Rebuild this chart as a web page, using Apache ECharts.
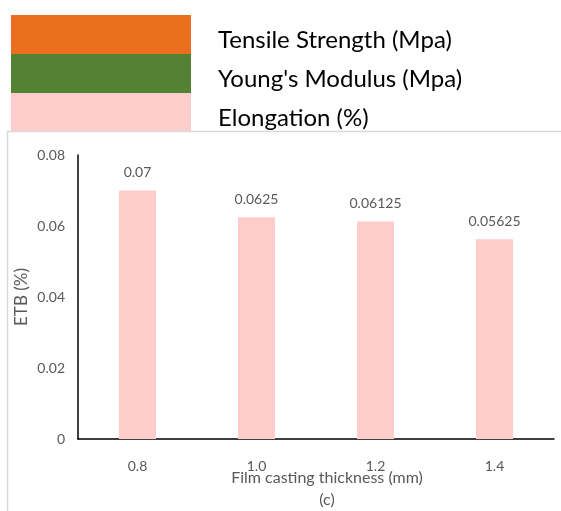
<!DOCTYPE html>
<html>
<head>
<meta charset="utf-8">
<script src="https://cdn.jsdelivr.net/npm/echarts@6/dist/echarts.min.js"></script>
<style>
  html, body { margin: 0; padding: 0; background: #ffffff; }
  #chart { width: 561px; height: 511px; }
</style>
</head>
<body>
<div id="chart"></div>
<script>
// Film casting thickness categories (mm)
const thickness = ['0.8', '1.0', '1.2', '1.4'];
// Elongation at break values (%)
const elongation = [0.07, 0.0625, 0.06125, 0.05625];
// Series names shown in the legend
const seriesNames = ['Tensile Strength (Mpa)', "Young's Modulus (Mpa)", 'Elongation (%)'];
const seriesColors = ['#eb6f1e', '#548235', '#ffcccc'];
// Y axis tick range
const yMin = 0, yMax = 0.08, yStep = 0.02;

const chart = echarts.init(document.getElementById('chart'), null, { renderer: 'canvas' });

const labelFont = 'Lato, "Open Sans", sans-serif';

const option = {
  backgroundColor: '#ffffff',
  animation: false,
  graphic: [{
    type: 'rect',
    z: 5,
    shape: { x: 7.5, y: 131.5, width: 600, height: 500 },
    style: { fill: 'none', stroke: '#d9d9d9', lineWidth: 1.5 },
    silent: true
  }],
  legend: {
    orient: 'vertical',
    left: 11,
    top: 15,
    itemWidth: 180,
    itemHeight: 39,
    itemGap: 0,
    padding: 0,
    icon: 'rect',
    selectedMode: false,
    data: seriesNames,
    formatter: name => '{t|' + name + '}',
    textStyle: {
      rich: {
        t: {
          fontFamily: 'Lato, "Noto Sans", sans-serif',
          fontSize: 24,
          color: '#000000',
          padding: [12, 0, 0, 22],
          lineHeight: 27
        }
      }
    }
  },
  grid: { left: 78, right: 7, top: 155, bottom: 72, outerBoundsMode: 'none', containLabel: false },
  xAxis: {
    type: 'category',
    data: thickness,
    axisLine: { lineStyle: { color: '#000000', width: 1.5 } },
    axisTick: { show: false },
    axisLabel: { color: '#595959', fontSize: 14, fontFamily: labelFont, margin: 20 },
    name: 'Film casting thickness (mm)\n(c)',
    nameLocation: 'middle',
    nameMoveOverlap: false,
    nameGap: 28,
    nameTextStyle: {
      color: '#595959', fontSize: 16, fontFamily: labelFont,
      lineHeight: 22, verticalAlign: 'top', padding: [0, 0, 0, 22]
    }
  },
  yAxis: {
    type: 'value',
    min: yMin,
    max: yMax,
    interval: yStep,
    axisLine: { show: true, lineStyle: { color: '#000000', width: 1.5 } },
    axisTick: { show: false },
    splitLine: { show: false },
    axisLabel: { color: '#595959', fontSize: 14, fontFamily: labelFont, margin: 13 },
    name: 'ETB (%)',
    nameLocation: 'middle',
    nameMoveOverlap: false,
    nameGap: 48,
    nameTextStyle: { color: '#595959', fontSize: 17, fontFamily: labelFont }
  },
  series: seriesNames.map((name, i) => ({
    name: name,
    type: 'bar',
    barWidth: 37,
    barGap: '-100%',
    itemStyle: { color: seriesColors[i] },
    data: i === 2 ? elongation : thickness.map(() => null),
    label: i === 2 ? {
      show: true,
      position: 'top',
      distance: 11,
      color: '#595959',
      fontSize: 14,
      fontFamily: labelFont,
      formatter: p => String(p.value)
    } : { show: false }
  }))
};

chart.setOption(option);
</script>
</body>
</html>
